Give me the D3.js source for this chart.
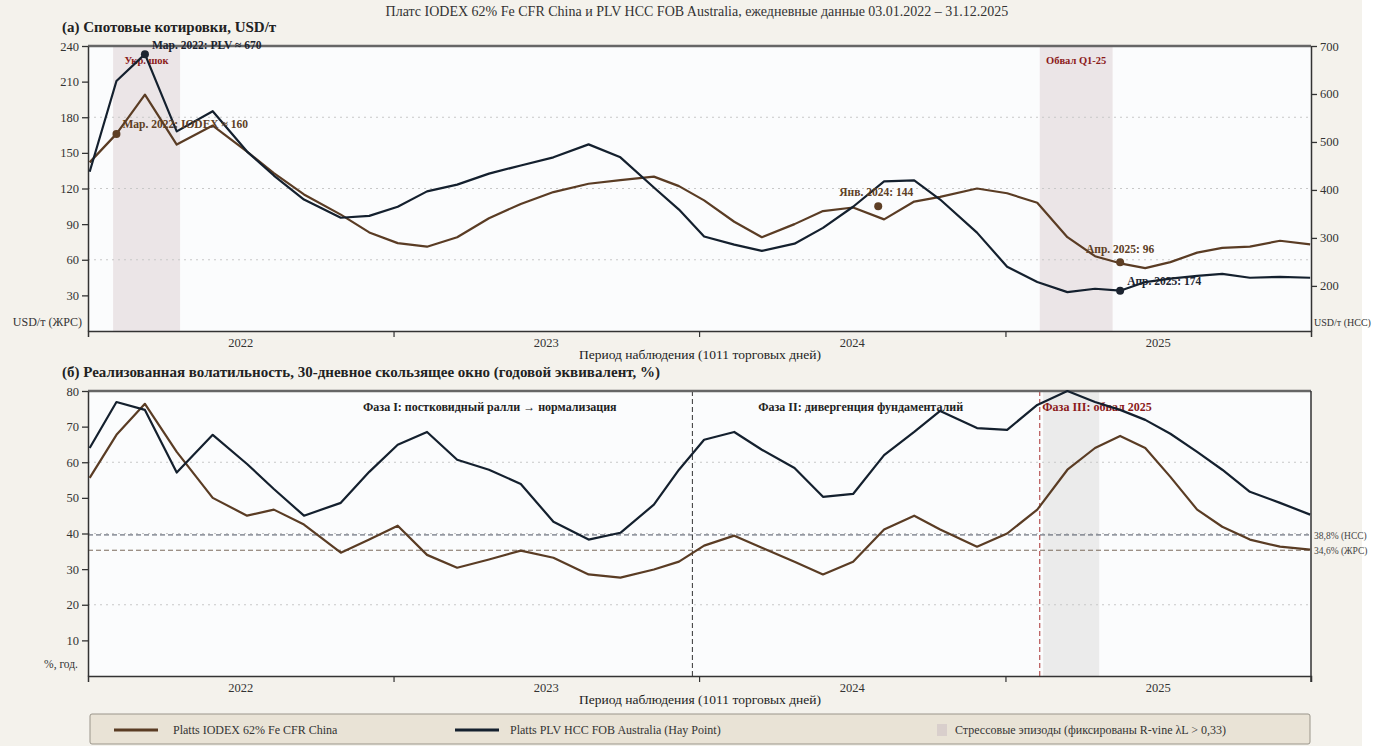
<!DOCTYPE html>
<html><head><meta charset="utf-8">
<script src="https://cdn.jsdelivr.net/npm/d3@7"></script>
<style>
body{margin:0;background:#fff;}
svg{display:block;}
text{font-family:"Liberation Serif","Times New Roman",serif;}
</style>
</head><body><svg id="c" width="1373" height="746"></svg>
<script>
// ---------- DATA ----------
const dates = ["2022-01-03","2022-02-04","2022-03-10","2022-04-17","2022-05-30","2022-07-10","2022-08-11","2022-09-16","2022-10-30","2022-12-03",
"2023-01-06","2023-02-10","2023-03-18","2023-04-25","2023-06-02","2023-07-11","2023-08-22","2023-09-29","2023-11-08","2023-12-08",
"2024-01-07","2024-02-12","2024-03-16","2024-04-24","2024-05-28","2024-07-03","2024-08-09","2024-09-14","2024-10-15","2024-11-28",
"2025-01-03","2025-02-08","2025-03-16","2025-04-18","2025-05-18","2025-06-17","2025-07-17","2025-08-18","2025-09-17","2025-10-20","2025-11-25","2025-12-31"];
const iodexPrice = [142,166,199,157,173,151,133,115,98,83,74,71,79,95,107,117,124,127,130,122,110,92,79,90,101,104,94,109,113,120,116,108,79,63,57,53,58,66,70,71,76,73];
const plvPrice = [438,627,683,522,564,480,430,380,342,346,365,397,411,434,451,468,495,468,405,359,303,286,273,288,321,365,418,420,380,311,240,208,187,194,190,208,215,221,225,217,219,217];
const iodexVol = [55.6,67.7,76.4,62.9,50.0,45.0,46.7,42.5,34.6,38.3,42.2,34.0,30.4,32.7,35.2,33.2,28.5,27.6,29.9,32.1,36.6,39.4,36.0,32.1,28.5,32.1,41.1,45.0,41.1,36.3,40.0,46.7,57.9,64.0,67.4,64.0,55.9,46.7,41.9,38.3,36.3,35.5];
const plvVol = [64.0,76.9,74.7,57.1,67.7,59.5,52.5,45.0,48.6,57.3,64.9,68.5,60.7,57.9,53.9,43.3,38.3,40.2,48.1,57.9,66.3,68.5,63.5,58.4,50.3,51.1,62.0,68.5,74.4,69.6,69.1,76.1,80.0,76.9,74.7,71.9,68.0,62.9,57.9,51.7,48.6,45.3];
const leftTicks = [30,60,90,120,150,180,210,240];
const rightTicks = [200,300,400,500,600,700];
const volTicks = [10,20,30,40,50,60,70,80];
const yearLabels = ["2022","2023","2024","2025"];
const stressA = [{from:"2022-01-31",to:"2022-04-21",label:"Укр. шок"},{from:"2025-02-11",to:"2025-05-09",label:"Обвал Q1-25"}];
const stressB = [{from:"2025-02-15",to:"2025-04-23"}];
const phaseLines = [{date:"2023-12-24",color:"#333"},{date:"2025-02-11",color:"#a83232"}];
const phaseLabels = [{date:"2023-04-26",text:"Фаза I: постковидный ралли → нормализация",color:"#222",anchor:"middle"},
                     {date:"2024-07-12",text:"Фаза II: дивергенция фундаменталий",color:"#222",anchor:"middle"},
                     {date:"2025-02-14",text:"Фаза III: обвал 2025",color:"#8b1a1a",anchor:"start"}];
const meanVol = [{value:39.6,label:"38,8% (HCC)",color:"#4a5160"},{value:35.3,label:"34,6% (ЖРС)",color:"#7a6a5c"}];
const annotations = [
  {date:"2022-03-10",value:683,axis:"right",text:"Мар. 2022: PLV ≈ 670",color:"#1c2430",dx:7,dy:-5,anchor:"start"},
  {date:"2022-02-04",value:166,axis:"left",text:"Мар. 2022: IODEX ≈ 160",color:"#5e3f25",dx:6,dy:-6,anchor:"start"},
  {date:"2024-08-02",value:105,axis:"left",text:"Янв. 2024: 144",color:"#5e3f25",dx:-2,dy:-10,anchor:"middle"},
  {date:"2025-05-18",value:58,axis:"left",text:"Апр. 2025: 96",color:"#5e3f25",dx:0,dy:-9,anchor:"middle"},
  {date:"2025-05-18",value:190,axis:"right",text:"Апр. 2025: 174",color:"#1c2430",dx:7,dy:-6,anchor:"start"}
];
const legendItems = [{type:"line",color:"#5a3c24",text:"Platts IODEX 62% Fe CFR China"},
                     {type:"line",color:"#14202e",text:"Platts PLV HCC FOB Australia (Hay Point)"},
                     {type:"rect",color:"#d9cfcc",text:"Стрессовые эпизоды (фиксированы R-vine λL > 0,33)"}];

// ---------- LAYOUT ----------
const W=1373,H=746;
const BROWN="#5a3c24", NAVY="#14202e";
const svg=d3.select("#c");
svg.append("rect").attr("width",W).attr("height",H).attr("fill","#f4f2ec");
svg.append("rect").attr("x",1362).attr("y",0).attr("width",11).attr("height",H).attr("fill","#fff");
const parse=d3.utcParse("%Y-%m-%d");
const x=d3.scaleUtc().domain([parse("2022-01-01"),parse("2026-01-01")]).range([88,1311]);
const A={top:46,bottom:331}, B={top:391,bottom:676};
const yL=d3.scaleLinear().domain([0,240]).range([A.bottom,A.top]);
const yR=d3.scaleLinear().domain([106,700]).range([A.bottom,A.top]);
const yV=d3.scaleLinear().domain([0,80]).range([B.bottom,B.top]);
const pts=dates.map(parse);

svg.append("text").attr("x",697).attr("y",16).attr("text-anchor","middle").attr("font-size",14).attr("fill","#333")
  .text("Платс IODEX 62% Fe CFR China и PLV HCC FOB Australia, ежедневные данные 03.01.2022 – 31.12.2025");

function panelBase(P,title){
  svg.append("rect").attr("x",88).attr("y",P.top).attr("width",1311-88).attr("height",P.bottom-P.top).attr("fill","#fbfcfd");
  svg.append("text").attr("x",62).attr("y",P.top-14).attr("font-size",15).attr("font-weight","bold").attr("fill","#222").text(title);
}
function xAxis(P){
  const g=svg.append("g").attr("transform",`translate(0,${P.bottom})`);
  g.call(d3.axisBottom(x).tickValues([2023,2024,2025].map(y=>parse(y+"-01-01"))).tickFormat("").tickSizeOuter(0).tickSize(6));
  g.select(".domain").attr("stroke","#333").attr("stroke-width",1.5);
  g.selectAll(".tick line").attr("stroke","#333").attr("stroke-width",1.2);
  yearLabels.forEach((yl,i)=>{
    const xm=(x(parse(yl+"-01-01"))+x(parse((+yl+1)+"-01-01")))/2;
    svg.append("text").attr("x",xm).attr("y",P.bottom+16).attr("text-anchor","middle").attr("font-size",12.5).attr("fill","#333").text(yl);
  });
  svg.append("text").attr("x",700).attr("y",P.bottom+28).attr("text-anchor","middle").attr("font-size",13.5).attr("fill","#222").text("Период наблюдения (1011 торговых дней)");
}
function styleAxis(g){
  g.select(".domain").attr("stroke","#333").attr("stroke-width",1.5);
  g.selectAll(".tick line").attr("stroke","#333").attr("stroke-width",1.3);
  g.selectAll(".tick text").attr("font-family","Liberation Serif").attr("font-size",12.5).attr("fill","#333");
}

// ---- Panel A ----
panelBase(A,"(а) Спотовые котировки, USD/т");
stressA.forEach(s=>{
  svg.append("rect").attr("x",x(parse(s.from))).attr("y",A.top).attr("width",x(parse(s.to))-x(parse(s.from))).attr("height",A.bottom-A.top).attr("fill","#ebe5e7");
  svg.append("text").attr("x",(x(parse(s.from))+x(parse(s.to)))/2).attr("y",A.top+18).attr("text-anchor","middle")
    .attr("font-size",10.5).attr("font-weight","bold").attr("fill","#8b1a1a").text(s.label);
});
[60,120,180].forEach(v=>svg.append("line").attr("x1",88).attr("x2",1311).attr("y1",yL(v)).attr("y2",yL(v)).attr("stroke","#c8c8c8").attr("stroke-dasharray","2,4"));
svg.append("line").attr("x1",88).attr("x2",1311).attr("y1",A.top).attr("y2",A.top).attr("stroke","#666").attr("stroke-width",2.5);
const gl=svg.append("g").attr("transform","translate(88,0)").call(d3.axisLeft(yL).tickValues(leftTicks).tickSize(6).tickSizeOuter(0));
styleAxis(gl);
const gr=svg.append("g").attr("transform","translate(1311,0)").call(d3.axisRight(yR).tickValues(rightTicks).tickSize(6).tickSizeOuter(0));
styleAxis(gr);
xAxis(A);
svg.append("text").attr("x",82).attr("y",A.bottom-5).attr("text-anchor","end").attr("font-size",12).attr("fill","#333").text("USD/т (ЖРС)");
svg.append("text").attr("x",1314).attr("y",A.bottom-5).attr("font-size",10).attr("fill","#333").text("USD/т (HCC)");

const lineL=d3.line().x((d,i)=>x(pts[i])).y(d=>yL(d));
const lineR=d3.line().x((d,i)=>x(pts[i])).y(d=>yR(d));
svg.append("path").attr("d",lineL(iodexPrice)).attr("fill","none").attr("stroke",BROWN).attr("stroke-width",2.2).attr("stroke-linejoin","round");
svg.append("path").attr("d",lineR(plvPrice)).attr("fill","none").attr("stroke",NAVY).attr("stroke-width",2.2).attr("stroke-linejoin","round");
annotations.forEach(a=>{
  const cx=x(parse(a.date)), cy=(a.axis==="left"?yL:yR)(a.value);
  svg.append("circle").attr("cx",cx).attr("cy",cy).attr("r",4).attr("fill",a.color);
  svg.append("text").attr("x",cx+a.dx).attr("y",cy+a.dy).attr("text-anchor",a.anchor).attr("font-size",11.5).attr("font-weight","bold").attr("fill",a.color).text(a.text);
});

// ---- Panel B ----
panelBase(B,"(б) Реализованная волатильность, 30-дневное скользящее окно (годовой эквивалент, %)");
stressB.forEach(s=>svg.append("rect").attr("x",x(parse(s.from))).attr("y",B.top).attr("width",x(parse(s.to))-x(parse(s.from))).attr("height",B.bottom-B.top).attr("fill","#ebebeb"));
[20,40,60].forEach(v=>svg.append("line").attr("x1",88).attr("x2",1311).attr("y1",yV(v)).attr("y2",yV(v)).attr("stroke","#c8c8c8").attr("stroke-dasharray","2,4"));
meanVol.forEach(m=>{
  svg.append("line").attr("x1",88).attr("x2",1311).attr("y1",yV(m.value)).attr("y2",yV(m.value)).attr("stroke",m.color).attr("stroke-width",1).attr("stroke-dasharray","5,3");
  svg.append("text").attr("x",1314).attr("y",yV(m.value)+4).attr("font-size",9.5).attr("fill","#444").text(m.label);
});
phaseLines.forEach(p=>svg.append("line").attr("x1",x(parse(p.date))).attr("x2",x(parse(p.date))).attr("y1",B.top).attr("y2",B.bottom).attr("stroke",p.color).attr("stroke-width",1).attr("stroke-dasharray","5,3"));
phaseLabels.forEach(p=>svg.append("text").attr("x",x(parse(p.date))).attr("y",B.top+20).attr("text-anchor",p.anchor).attr("font-size",12).attr("font-weight","bold").attr("fill",p.color).text(p.text));
svg.append("line").attr("x1",88).attr("x2",1311).attr("y1",B.top).attr("y2",B.top).attr("stroke","#666").attr("stroke-width",2.5);
const gv=svg.append("g").attr("transform","translate(88,0)").call(d3.axisLeft(yV).tickValues(volTicks).tickSize(6).tickSizeOuter(0));
styleAxis(gv);
svg.append("line").attr("x1",1311).attr("x2",1311).attr("y1",B.top).attr("y2",B.bottom+6).attr("stroke","#333").attr("stroke-width",1.5);
xAxis(B);
svg.append("text").attr("x",78).attr("y",B.bottom-8).attr("text-anchor","end").attr("font-size",11.5).attr("fill","#333").text("%, год.");
const lineV=d3.line().x((d,i)=>x(pts[i])).y(d=>yV(d));
svg.append("path").attr("d",lineV(iodexVol)).attr("fill","none").attr("stroke",BROWN).attr("stroke-width",2.2).attr("stroke-linejoin","round");
svg.append("path").attr("d",lineV(plvVol)).attr("fill","none").attr("stroke",NAVY).attr("stroke-width",2.2).attr("stroke-linejoin","round");

// ---- Legend ----
const lg=svg.append("g");
lg.append("rect").attr("x",90).attr("y",714).attr("width",1220).attr("height",30).attr("fill","#e9e3d6").attr("stroke","#9a958a").attr("rx",2);
const lx=[114,455,937];
legendItems.forEach((it,i)=>{
  if(it.type==="line") lg.append("line").attr("x1",lx[i]).attr("x2",lx[i]+44).attr("y1",730).attr("y2",730).attr("stroke",it.color).attr("stroke-width",3);
  else lg.append("rect").attr("x",lx[i]).attr("y",724).attr("width",10).attr("height",12).attr("fill",it.color);
  lg.append("text").attr("x",i===0?173:(i===1?510:955)).attr("y",734).attr("font-size",12).attr("fill","#333").text(it.text);
});
</script></body></html>
